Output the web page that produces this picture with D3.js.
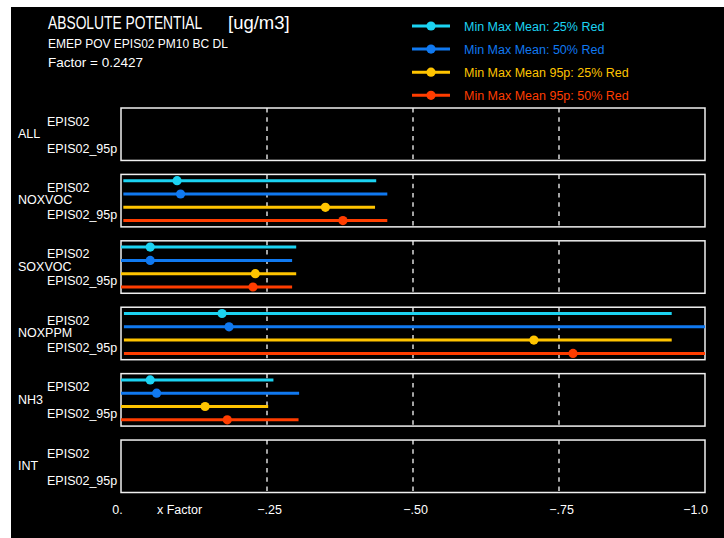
<!DOCTYPE html>
<html>
<head>
<meta charset="utf-8">
<script src="https://cdn.jsdelivr.net/npm/d3@7"></script>
<style>
  html, body { margin: 0; padding: 0; background: #ffffff; }
  svg { display: block; }
  text { font-family: "Liberation Sans", Arial, sans-serif; fill: #ffffff; }
</style>
</head>
<body>
<svg id="chart" width="724" height="538"></svg>
<script>
// Emission-reduction groups (one panel each) and the two rows labelled in every panel
const groups = ["ALL", "NOXVOC", "SOXVOC", "NOXPPM", "NH3", "INT"];
const rowLabels = ["EPIS02", "EPIS02_95p"];

// Series drawn as min–max bars with a dot at the mean
const seriesNames = [
  "Min Max Mean: 25% Red",
  "Min Max Mean: 50% Red",
  "Min Max Mean 95p: 25% Red",
  "Min Max Mean 95p: 50% Red"
];
const seriesColors = ["#1cd3f2", "#1079f0", "#ffc400", "#ff3d00"];

// Values per group (null = no data for that group)
const minCyan   = [null, -0.004, 0.000, -0.005, 0.000, null];
const meanCyan  = [null, -0.096, -0.050, -0.173, -0.050, null];
const maxCyan   = [null, -0.437, -0.300, -0.943, -0.261, null];

const minBlue   = [null, -0.004, 0.000, -0.005, 0.000, null];
const meanBlue  = [null, -0.102, -0.050, -0.185, -0.061, null];
const maxBlue   = [null, -0.456, -0.293, -1.000, -0.305, null];

const minYellow  = [null, -0.004, 0.000, -0.005, 0.000, null];
const meanYellow = [null, -0.350, -0.230, -0.707, -0.144, null];
const maxYellow  = [null, -0.435, -0.300, -0.943, -0.252, null];

const minRed    = [null, -0.004, 0.000, -0.005, 0.000, null];
const meanRed   = [null, -0.380, -0.226, -0.774, -0.182, null];
const maxRed    = [null, -0.456, -0.293, -1.000, -0.304, null];

// Axis ticks
const tickValues = [0, -0.25, -0.5, -0.75, -1.0];
const tickLabels = ["0.", "\u2212.25", "\u2212.50", "\u2212.75", "\u22121.0"];
const gridValues = [-0.25, -0.5, -0.75];

const title = "ABSOLUTE POTENTIAL";
const titleUnit = "[ug/m3]";
const subtitle = "EMEP POV EPIS02 PM10 BC DL";
const factorText = "Factor = 0.2427";
const axisTitle = "x Factor";

// ---- build series table ----
const mins = [minCyan, minBlue, minYellow, minRed];
const means = [meanCyan, meanBlue, meanYellow, meanRed];
const maxs = [maxCyan, maxBlue, maxYellow, maxRed];
const records = [];
seriesNames.forEach((s, si) => {
  groups.forEach((g, gi) => {
    if (means[si][gi] == null) return;
    records.push({ series: s, color: seriesColors[si], group: g,
                   min: mins[si][gi], mean: means[si][gi], max: maxs[si][gi] });
  });
});

const svg = d3.select("#chart");

// black plotting area
svg.append("rect").attr("x", 11).attr("y", 7).attr("width", 713).attr("height", 531)
  .attr("fill", "#000000");

// scales
const x = d3.scaleLinear().domain([0, -1]).range([121, 705]);
const yGroup = d3.scaleBand().domain(groups).range([108, 492.5]).paddingInner(0.21).paddingOuter(0);
const ySeries = d3.scalePoint().domain(seriesNames).range([0, yGroup.bandwidth()]).padding(0.47);

// panels
const panel = svg.selectAll("g.panel").data(groups).join("g")
  .attr("class", "panel")
  .attr("transform", d => `translate(0,${yGroup(d)})`);

panel.selectAll("line.grid").data(gridValues).join("line")
  .attr("class", "grid")
  .attr("x1", d => x(d)).attr("x2", d => x(d))
  .attr("y1", 0).attr("y2", yGroup.bandwidth())
  .attr("stroke", "#e8e8e8").attr("stroke-width", 1.4)
  .attr("stroke-dasharray", "4.5,4.8");

panel.append("rect")
  .attr("x", x(0)).attr("y", 0)
  .attr("width", x(-1) - x(0)).attr("height", yGroup.bandwidth())
  .attr("fill", "none").attr("stroke", "#f0f0f0").attr("stroke-width", 1.5);

// labels left of each panel
panel.append("text").attr("x", 18).attr("y", 30).attr("font-size", 12.5).text(d => d);
panel.append("text").attr("x", 47).attr("y", 17.5).attr("font-size", 12.5).text(rowLabels[0]);
panel.append("text").attr("x", 47).attr("y", 44.5).attr("font-size", 12.5).text(rowLabels[1]);

// min-max bars and mean dots
const marks = svg.append("g").selectAll("g").data(records).join("g")
  .attr("transform", d => `translate(0,${yGroup(d.group) + ySeries(d.series)})`);
marks.append("line")
  .attr("x1", d => x(d.min)).attr("x2", d => x(d.max))
  .attr("y1", 0).attr("y2", 0)
  .attr("stroke", d => d.color).attr("stroke-width", 3);
marks.append("circle")
  .attr("cx", d => x(d.mean)).attr("cy", 0).attr("r", 4.6)
  .attr("fill", d => d.color);

// x axis labels
const axis = d3.axisBottom(x).tickValues(tickValues)
  .tickFormat((d, i) => tickLabels[i]).tickSize(0).tickPadding(0);
const ax = svg.append("g").attr("transform", "translate(0,505)").call(axis);
ax.select(".domain").remove();
ax.selectAll("text")
  .attr("font-family", "'Liberation Sans', Arial, sans-serif")
  .attr("font-size", 12.5).attr("fill", "#ffffff").attr("dy", "0.72em")
  .attr("dx", (d, i) => i === 0 ? -4 : (i === tickValues.length - 1 ? -10 : 2));
svg.append("text").attr("x", 157).attr("y", 514).attr("font-size", 12.5).text(axisTitle);

// titles: heading squeezed horizontally to a condensed look
const head = svg.append("g").attr("transform", "translate(48,28.5) scale(0.79,1)");
head.append("text").attr("x", 0).attr("y", 0).attr("font-size", 17.5).text(title);
svg.append("text").attr("x", 228).attr("y", 28.5).attr("font-size", 18.5).text(titleUnit);
svg.append("text").attr("x", 48).attr("y", 47.5).attr("font-size", 12).text(subtitle);
svg.append("text").attr("x", 48).attr("y", 66.5).attr("font-size", 13.5).text(factorText);

// legend
const legend = svg.append("g").selectAll("g").data(seriesNames).join("g")
  .attr("transform", (d, i) => `translate(412,${26 + i * 23.1})`);
legend.append("line").attr("x1", 0).attr("x2", 38).attr("y1", 0).attr("y2", 0)
  .attr("stroke", (d, i) => seriesColors[i]).attr("stroke-width", 3);
legend.append("circle").attr("cx", 19).attr("cy", 0).attr("r", 4.6)
  .attr("fill", (d, i) => seriesColors[i]);
legend.append("text").attr("x", 52).attr("y", 4.5).attr("font-size", 12.5)
  .style("fill", (d, i) => seriesColors[i]).text(d => d);
</script>
</body>
</html>
